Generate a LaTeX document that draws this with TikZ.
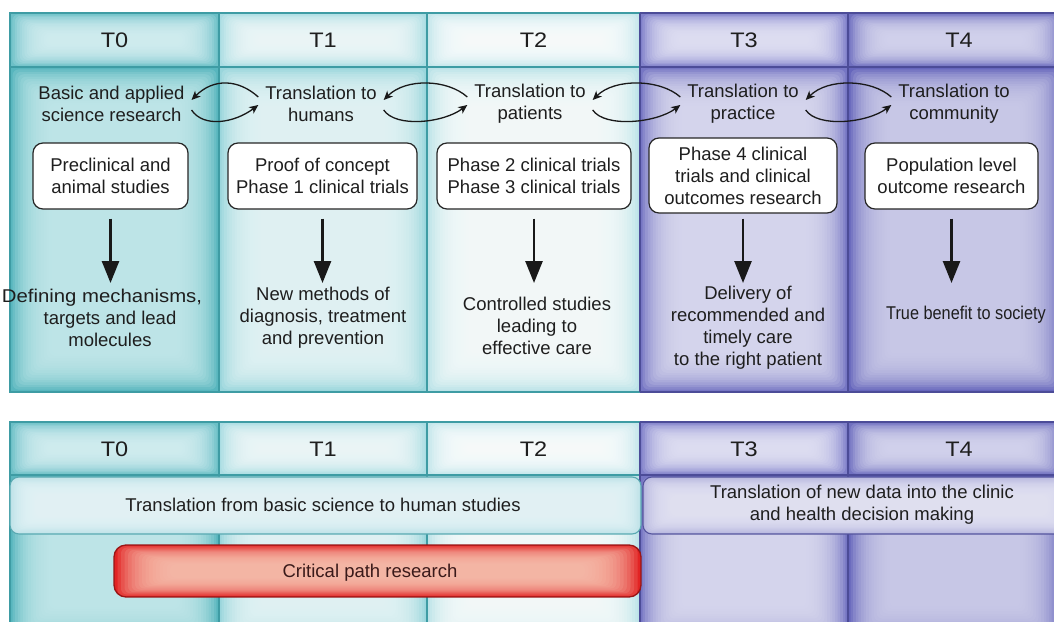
\documentclass[tikz,border=0pt]{standalone}
\usepackage{fontspec}
\setmainfont{Liberation Sans}
\usetikzlibrary{arrows.meta}
\definecolor{txt}{HTML}{1E1E1E}
\definecolor{tealline}{HTML}{3E9CA4}
\definecolor{purpline}{HTML}{4C4C98}
\definecolor{c0in}{HTML}{C6E9EC}\definecolor{c0out}{HTML}{58B6BE}
\definecolor{c1in}{HTML}{E6F5F7}\definecolor{c1out}{HTML}{9AD6DC}
\definecolor{c2in}{HTML}{F7FCFC}\definecolor{c2out}{HTML}{BCE3E8}
\definecolor{c3in}{HTML}{DCDCF1}\definecolor{c3out}{HTML}{7676C4}
\definecolor{c4in}{HTML}{CFCFEB}\definecolor{c4out}{HTML}{6666BC}
\definecolor{h0in}{HTML}{D6F0F2}\definecolor{h0out}{HTML}{6CC0C7}
\definecolor{h1in}{HTML}{F0F9FA}\definecolor{h1out}{HTML}{AADDE3}
\definecolor{h2in}{HTML}{FBFEFE}\definecolor{h2out}{HTML}{C4E7EB}
\definecolor{h3in}{HTML}{E4E4F5}\definecolor{h3out}{HTML}{8080CA}
\definecolor{h4in}{HTML}{D8D8F0}\definecolor{h4out}{HTML}{7070C0}
\definecolor{bbin}{HTML}{E6F5F8}\definecolor{bbout}{HTML}{BEE2E8}\definecolor{bbline}{HTML}{5AAAB2}
\definecolor{bpin}{HTML}{E4E4F4}\definecolor{bpout}{HTML}{B4B4DE}\definecolor{bpline}{HTML}{55559E}
\definecolor{brin}{HTML}{F8C0AE}\definecolor{brout}{HTML}{E22424}\definecolor{brline}{HTML}{981616}
\definecolor{brtxt}{HTML}{3A1A1A}
% soft rectangular glow: x1 y1 x2 y2 inner outer dx dy
\newcommand\glowbox[8]{%
  \fill[#6] (#1,#2) rectangle (#3,#4);
  \foreach \k in {1,...,16}{%
    \fill[#5, fill opacity=0.17, rounded corners=6pt] ({#1+\k*#7},{#2+\k*#8}) rectangle ({#3-\k*#7},{#4-\k*#8});
  }%
}
\newcommand\hdtxt[1]{\scalebox{1.12}[1]{#1}}
\tikzset{
  tl/.style={draw=tealline, line width=1.3pt},
  pl/.style={draw=purpline, line width=1.3pt},
  hdr/.style={font=\fontsize{21}{24}\selectfont, text=txt, inner sep=0pt},
  lbl/.style={align=center, text=txt, inner sep=2pt, outer sep=5pt},
  wbox/.style={draw=black!85, line width=1.2pt, fill=white, rounded corners=10pt, align=center, text=txt, inner sep=2pt},
  res/.style={align=center, text=txt, inner sep=0pt},
  bigarrow/.style={draw=black!90, line width=2.6pt, -{Triangle[length=22pt,width=17pt]}},
  cyc/.style={draw=black!90, line width=1.3pt, -{Stealth[length=9pt,width=8pt,inset=2.5pt]}},
}
\begin{document}
\begin{tikzpicture}[x=1pt,y=-1pt, font=\fontsize{18.5}{22}\selectfont]
\useasboundingbox (0,0) rectangle (1054,621);
\clip (0,0) rectangle (1054,621);
\fill[white] (0,0) rectangle (1054,621);
% ===== top section: column bodies
\glowbox{10}{67}{219}{392}{c0in}{c0out}{2.6}{2.4}
\glowbox{219}{67}{427}{392}{c1in}{c1out}{2.6}{2.4}
\glowbox{427}{67}{640}{392}{c2in}{c2out}{2.6}{2.4}
\glowbox{640}{67}{848}{392}{c3in}{c3out}{2.6}{2.4}
\glowbox{848}{67}{1062}{392}{c4in}{c4out}{2.6}{2.4}
% headers
\glowbox{10}{13}{219}{67}{h0in}{h0out}{2.4}{1.4}
\glowbox{219}{13}{427}{67}{h1in}{h1out}{2.4}{1.4}
\glowbox{427}{13}{640}{67}{h2in}{h2out}{2.4}{1.4}
\glowbox{640}{13}{848}{67}{h3in}{h3out}{2.4}{1.4}
\glowbox{848}{13}{1062}{67}{h4in}{h4out}{2.4}{1.4}
% lines
\draw[tl] (640,13) -- (10,13) -- (10,392) -- (640,392);
\draw[tl] (219,13) -- (219,392) (427,13) -- (427,392);
\draw[tl, line width=2pt] (10,67) -- (640,67);
\draw[pl] (640,13) -- (1070,13) (640,392) -- (1070,392);
\draw[pl] (640,13) -- (640,392) (848,13) -- (848,392);
\draw[pl, line width=2pt] (640,67) -- (1070,67);
% ===== bottom section
\glowbox{10}{475}{219}{645}{c0in}{c0out}{2.6}{2.4}
\glowbox{219}{475}{427}{645}{c1in}{c1out}{2.6}{2.4}
\glowbox{427}{475}{640}{645}{c2in}{c2out}{2.6}{2.4}
\glowbox{640}{475}{848}{645}{c3in}{c3out}{2.6}{2.4}
\glowbox{848}{475}{1062}{645}{c4in}{c4out}{2.6}{2.4}
\glowbox{10}{422}{219}{475}{h0in}{h0out}{2.4}{1.4}
\glowbox{219}{422}{427}{475}{h1in}{h1out}{2.4}{1.4}
\glowbox{427}{422}{640}{475}{h2in}{h2out}{2.4}{1.4}
\glowbox{640}{422}{848}{475}{h3in}{h3out}{2.4}{1.4}
\glowbox{848}{422}{1062}{475}{h4in}{h4out}{2.4}{1.4}
\draw[tl] (640,422) -- (10,422) -- (10,640);
\draw[tl] (219,422) -- (219,640) (427,422) -- (427,640);
\draw[tl, line width=2pt] (10,475) -- (640,475);
\draw[pl] (640,422) -- (1070,422);
\draw[pl] (640,422) -- (640,640) (848,422) -- (848,640);
\draw[pl, line width=2pt] (640,475) -- (1070,475);
% ===== headers text
\node[hdr] (ht0) at (114.5,40) {\hdtxt{T0}};
\node[hdr] (ht1) at (323,40) {\hdtxt{T1}};
\node[hdr] (ht2) at (533.5,40) {\hdtxt{T2}};
\node[hdr] (ht3) at (744,40) {\hdtxt{T3}};
\node[hdr] (ht4) at (959,40) {\hdtxt{T4}};
\node[hdr] (bt0) at (114.5,449) {\hdtxt{T0}};
\node[hdr] (bt1) at (323,449) {\hdtxt{T1}};
\node[hdr] (bt2) at (533.5,449) {\hdtxt{T2}};
\node[hdr] (bt3) at (744,449) {\hdtxt{T3}};
\node[hdr] (bt4) at (959,449) {\hdtxt{T4}};
% ===== translation labels
\node[lbl] (b0) at (111.5,104) {Basic and applied\\science research};
\node[lbl] (b1) at (321,104) {Translation to\\humans};
\node[lbl] (b2) at (530,104) {Translation to\\patients};
\node[lbl] (b3) at (743,104) {Translation to\\practice};
\node[lbl] (b4) at (954,104) {Translation to\\community};
% cycle arrows
\foreach \l/\r in {b0/b1, b1/b2, b2/b3, b3/b4}{
  \draw[cyc] ([yshift=7pt]\r.west) .. controls +(-20,-18) and +(22,-22) .. ([yshift=4pt]\l.east);
  \draw[cyc] ([yshift=-6pt]\l.east) .. controls +(12,18) and +(-24,18) .. ([yshift=-1pt]\r.west);
}
% ===== white boxes
\node[wbox, minimum width=155pt, minimum height=66pt] (p0) at (110.5,176) {Preclinical and\\animal studies};
\node[wbox, minimum width=189pt, minimum height=66pt] (p1) at (322.5,176) {Proof of concept\\Phase 1 clinical trials};
\node[wbox, minimum width=194pt, minimum height=66pt] (p2) at (534,176) {Phase 2 clinical trials\\Phase 3 clinical trials};
\node[wbox, minimum width=188pt, minimum height=75pt] (p3) at (743,175.5) {Phase 4 clinical\\trials and clinical\\outcomes research};
\node[wbox, minimum width=173pt, minimum height=66pt] (p4) at (951.5,176) {Population level\\outcome research};
% ===== results
\node[res] (d0) at (110,318) {\hspace*{-16pt}\scalebox{1.1}[1]{Defining mechanisms,}\\targets and lead\\molecules};
\node[res] (d1) at (323,318) {New methods of\\diagnosis, treatment\\and prevention};
\node[res] (d2) at (537,326) {Controlled studies\\leading to\\effective care};
\node[res] (d3) at (748,328) {Delivery of\\recommended and\\timely care\\to the right patient};
\node[res] (d4) at (966,315) {\scalebox{0.88}[1]{True benefit to society}};
% arrow tips
\coordinate (e0) at (110.5,283);
\coordinate (e1) at (322.5,283);
\coordinate (e2) at (534,283);
\coordinate (e3) at (743,283);
\coordinate (e4) at (951.5,283);
\draw[bigarrow] (p0.south) ++(0,9) -- (e0);
\draw[bigarrow] (p1.south) ++(0,9) -- (e1);
\draw[bigarrow] (p2.south) ++(0,9) -- (e2);
\draw[bigarrow] (p3.south) ++(0,5) -- (e3);
\draw[bigarrow] (p4.south) ++(0,9) -- (e4);
% ===== bottom bars
\begin{scope}
  \clip[rounded corners=9pt] (10,477) rectangle (641,534);
  \glowbox{10}{477}{641}{534}{bbin}{bbout}{1.8}{1.2}
\end{scope}
\draw[draw=bbline, line width=1.1pt, rounded corners=9pt] (10,477) rectangle (641,534);
\node[res] (bar1) at (323,505) {Translation from basic science to human studies};
\begin{scope}
  \clip[rounded corners=9pt] (643,477) rectangle (1075,534);
  \glowbox{643}{477}{1075}{534}{bpin}{bpout}{1.8}{1.2}
\end{scope}
\draw[draw=bpline, line width=1.1pt, rounded corners=9pt] (643,477) rectangle (1075,534);
\node[res] (bar2) at (862,505) {Translation of new data into the clinic\\and health decision making};
\begin{scope}
  \clip[rounded corners=12pt] (114,545) rectangle (641,597);
  \glowbox{114}{545}{641}{597}{brin}{brout}{3.5}{1.2}
\end{scope}
\draw[draw=brline, line width=1.3pt, rounded corners=12pt] (114,545) rectangle (641,597);
\node[res, text=brtxt] (crit) at (370,573) {Critical path research};
\end{tikzpicture}
\end{document}
